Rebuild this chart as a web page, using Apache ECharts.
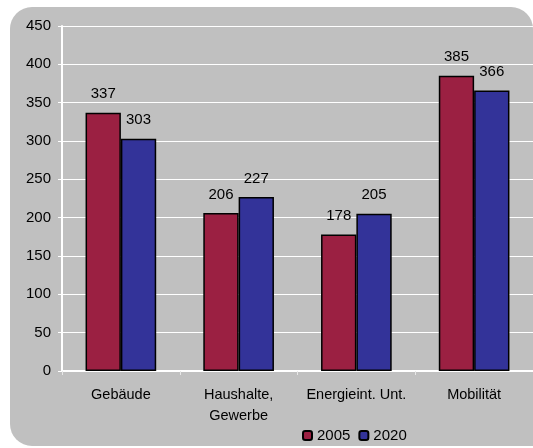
<!DOCTYPE html>
<html>
<head>
<meta charset="utf-8">
<script src="https://cdn.jsdelivr.net/npm/echarts@6/dist/echarts.min.js"></script>
<style>
  html, body { margin: 0; padding: 0; background: #fff; }
  #panel {
    position: absolute; left: 10px; top: 7px; width: 523px; height: 439px;
    background: #c0c0c0; border-radius: 22px 22px 0 22px;
  }
  #chart { position: absolute; left: 0; top: 0; width: 533px; height: 448px; }
</style>
</head>
<body>
<div id="panel"></div>
<div id="chart"></div>
<script>
// Kategorien und Werte
const categories = ['Gebäude', 'Haushalte,\nGewerbe', 'Energieint. Unt.', 'Mobilität']
const values2005 = [337, 206, 178, 385]
const values2020 = [303, 227, 205, 366]

const myChart = echarts.init(document.getElementById('chart'))

const labelStyle = { show: true, position: 'top', distance: 11, color: '#000', fontSize: 15, fontFamily: 'Liberation Sans' }

myChart.setOption({
  animation: false,
  textStyle: { fontFamily: 'Liberation Sans' },
  grid: { left: 62, right: -1, top: 26, bottom: 77 },
  legend: {
    bottom: 0, left: 297,
    itemWidth: 9, itemHeight: 9, itemGap: 8,
    textStyle: { fontSize: 15, color: '#000' },
    data: ['2005', '2020']
  },
  xAxis: {
    type: 'category',
    data: categories,
    axisLine: { lineStyle: { color: '#fff', width: 2 } },
    axisTick: { show: true, length: 4, lineStyle: { color: '#e8e8e8' } },
    axisLabel: { color: '#000', fontSize: 14.5, margin: 13, lineHeight: 21, interval: 0, hideOverlap: false }
  },
  yAxis: {
    type: 'value',
    min: 0, max: 450, interval: 50,
    axisLine: { show: true, lineStyle: { color: '#fff', width: 2 } },
    axisTick: { show: true, length: 4, lineStyle: { color: '#fff' } },
    axisLabel: { color: '#000', fontSize: 15, margin: 11 },
    splitLine: { lineStyle: { color: '#fff', width: 1 } }
  },
  series: [
    {
      name: '2005', type: 'bar', data: values2005,
      barGap: '0%', barCategoryGap: '40%',
      itemStyle: { color: '#9b2042', borderColor: '#000', borderWidth: 1.5 },
      label: labelStyle
    },
    {
      name: '2020', type: 'bar', data: values2020,
      itemStyle: { color: '#333399', borderColor: '#000', borderWidth: 1.5 },
      label: labelStyle
    }
  ]
})
</script>
</body>
</html>
